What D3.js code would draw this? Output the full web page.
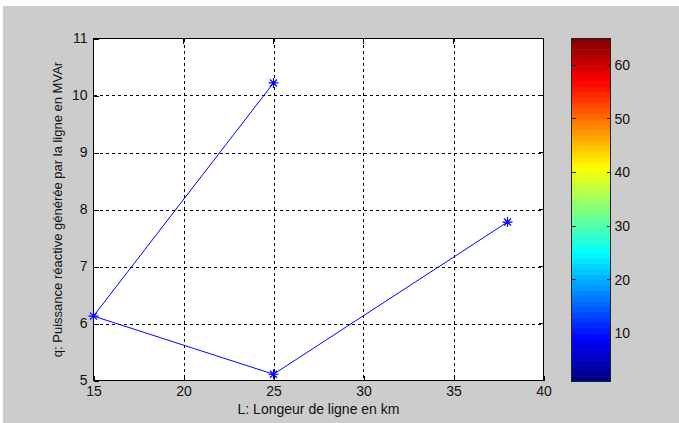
<!DOCTYPE html>
<html>
<head>
<meta charset="utf-8">
<script src="https://cdn.jsdelivr.net/npm/d3@7"></script>
<style>
  html, body { margin: 0; padding: 0; background: #ffffff; }
  svg { display: block; }
  text { font-family: "Liberation Sans", Arial, sans-serif; fill: #111; }
</style>
</head>
<body>
<script>
// Line length (km) and reactive power generated by the line (MVAr), in plotted order
const lengthKm = [25, 15, 25, 38];
const reactiveMVAr = [10.22, 6.13, 5.11, 7.78];

// Axis ticks
const xTicks = [15, 20, 25, 30, 35, 40];
const yTicks = [5, 6, 7, 8, 9, 10, 11];
const cbarTicks = [10, 20, 30, 40, 50, 60];

const xLabel = "L: Longeur de ligne en km";
const yLabel = "q: Puissance réactive générée par la ligne en MVAr";

const W = 679, H = 423;
const svg = d3.select("body").append("svg").attr("width", W).attr("height", H);

// figure background
svg.append("rect").attr("x", 3).attr("y", 6).attr("width", W - 3).attr("height", H - 6)
  .attr("fill", "#cccccc");

const plot = { left: 93.5, right: 543.5, top: 38.5, bottom: 380.5 };

const x = d3.scaleLinear().domain([15, 40]).range([plot.left, plot.right]);
const y = d3.scaleLinear().domain([5, 11]).range([plot.bottom, plot.top]);

// axes background
svg.append("rect")
  .attr("x", plot.left).attr("y", plot.top)
  .attr("width", plot.right - plot.left).attr("height", plot.bottom - plot.top)
  .attr("fill", "#ffffff");

// dotted grid
const grid = svg.append("g").attr("stroke", "#000").attr("stroke-width", 1)
  .attr("stroke-dasharray", "3,3").attr("shape-rendering", "crispEdges");
xTicks.slice(1, -1).forEach(t => {
  grid.append("line").attr("x1", Math.round(x(t)) + 0.5).attr("x2", Math.round(x(t)) + 0.5)
    .attr("y1", plot.top).attr("y2", plot.bottom);
});
yTicks.slice(1, -1).forEach(t => {
  grid.append("line").attr("y1", Math.round(y(t)) + 0.5).attr("y2", Math.round(y(t)) + 0.5)
    .attr("x1", plot.left).attr("x2", plot.right);
});

// axes with inward ticks
const fmt = d3.format("d");
const xAxis = d3.axisBottom(x).tickValues(xTicks).tickFormat(fmt).tickSizeInner(-5).tickSizeOuter(0).tickPadding(6);
const yAxis = d3.axisLeft(y).tickValues(yTicks).tickFormat(fmt).tickSizeInner(-5).tickSizeOuter(0).tickPadding(6);

const gx = svg.append("g").attr("transform", `translate(0,${plot.bottom})`).call(xAxis);
const gy = svg.append("g").attr("transform", `translate(${plot.left},0)`).call(yAxis);
[gx, gy].forEach(g => {
  g.select(".domain").remove();
  g.selectAll("line").attr("stroke", "#000").attr("shape-rendering", "crispEdges");
  g.selectAll("text").attr("font-size", 14).attr("fill", "#111")
    .style("font-family", '"Liberation Sans", Arial, sans-serif');
});
gx.selectAll("text").attr("dy", "0.71em");

// top and right ticks
const tickTop = svg.append("g").attr("stroke", "#000").attr("shape-rendering", "crispEdges");
xTicks.forEach(t => tickTop.append("line").attr("x1", x(t)).attr("x2", x(t))
  .attr("y1", plot.top).attr("y2", plot.top + 5));
yTicks.forEach(t => tickTop.append("line").attr("y1", y(t)).attr("y2", y(t))
  .attr("x1", plot.right).attr("x2", plot.right - 5));

// axes box
svg.append("rect")
  .attr("x", plot.left).attr("y", plot.top)
  .attr("width", plot.right - plot.left).attr("height", plot.bottom - plot.top)
  .attr("fill", "none").attr("stroke", "#000").attr("stroke-width", 1)
  .attr("shape-rendering", "crispEdges");

// data line
const pts = lengthKm.map((v, i) => [v, reactiveMVAr[i]]);
svg.append("path")
  .datum(pts)
  .attr("d", d3.line().x(d => x(d[0])).y(d => y(d[1])))
  .attr("fill", "none").attr("stroke", "#0000ff").attr("stroke-width", 1);

// star markers
const star = svg.append("g").attr("stroke", "#0000ff").attr("stroke-width", 1.2);
pts.forEach(d => {
  const cx = x(d[0]), cy = y(d[1]), r = 5, q = 3.5;
  star.append("path").attr("d",
    `M${cx - r},${cy}L${cx + r},${cy}M${cx},${cy - r}L${cx},${cy + r}` +
    `M${cx - q},${cy - q}L${cx + q},${cy + q}M${cx - q},${cy + q}L${cx + q},${cy - q}`);
});

// axis labels
svg.append("text")
  .attr("x", (plot.left + plot.right) / 2).attr("y", 414)
  .attr("text-anchor", "middle").attr("font-size", 14)
  .text(xLabel);
svg.append("text")
  .attr("transform", `translate(62,${(plot.top + plot.bottom) / 2}) rotate(-90)`)
  .attr("text-anchor", "middle").attr("font-size", 13)
  .text(yLabel);

// colorbar (jet colormap, 64 levels over [1, 65])
function jet(t) {
  const c = v => Math.max(0, Math.min(1, v));
  const r = c(1.5 - Math.abs(4 * t - 3));
  const g = c(1.5 - Math.abs(4 * t - 2));
  const b = c(1.5 - Math.abs(4 * t - 1));
  return d3.rgb(r * 255, g * 255, b * 255).formatHex();
}
const cb = { left: 571.5, right: 610.5, top: 38.5, bottom: 381.5 };
const cy = d3.scaleLinear().domain([1, 65]).range([cb.bottom, cb.top]);
const levels = d3.range(1, 65);
svg.append("g").selectAll("rect").data(levels).join("rect")
  .attr("x", cb.left).attr("width", cb.right - cb.left)
  .attr("y", d => cy(d + 1)).attr("height", d => cy(d) - cy(d + 1) + 0.5)
  .attr("fill", d => jet((d - 1 + 0.5) / 64));

const cbAxis = d3.axisRight(cy).tickValues(cbarTicks).tickSizeInner(0).tickPadding(4);
const gcb = svg.append("g").attr("transform", `translate(${cb.right},0)`).call(cbAxis);
gcb.select(".domain").remove();
gcb.selectAll("text").attr("font-size", 14).attr("fill", "#111")
  .style("font-family", '"Liberation Sans", Arial, sans-serif');

const cbt = svg.append("g").attr("stroke", "#222").attr("shape-rendering", "crispEdges");
cbarTicks.forEach(t => {
  cbt.append("line").attr("x1", cb.left).attr("x2", cb.left + 4).attr("y1", cy(t)).attr("y2", cy(t));
  cbt.append("line").attr("x1", cb.right).attr("x2", cb.right - 4).attr("y1", cy(t)).attr("y2", cy(t));
});
svg.append("rect")
  .attr("x", cb.left).attr("y", cb.top)
  .attr("width", cb.right - cb.left).attr("height", cb.bottom - cb.top)
  .attr("fill", "none").attr("stroke", "#222").attr("stroke-width", 1)
  .attr("shape-rendering", "crispEdges");
</script>
</body>
</html>
